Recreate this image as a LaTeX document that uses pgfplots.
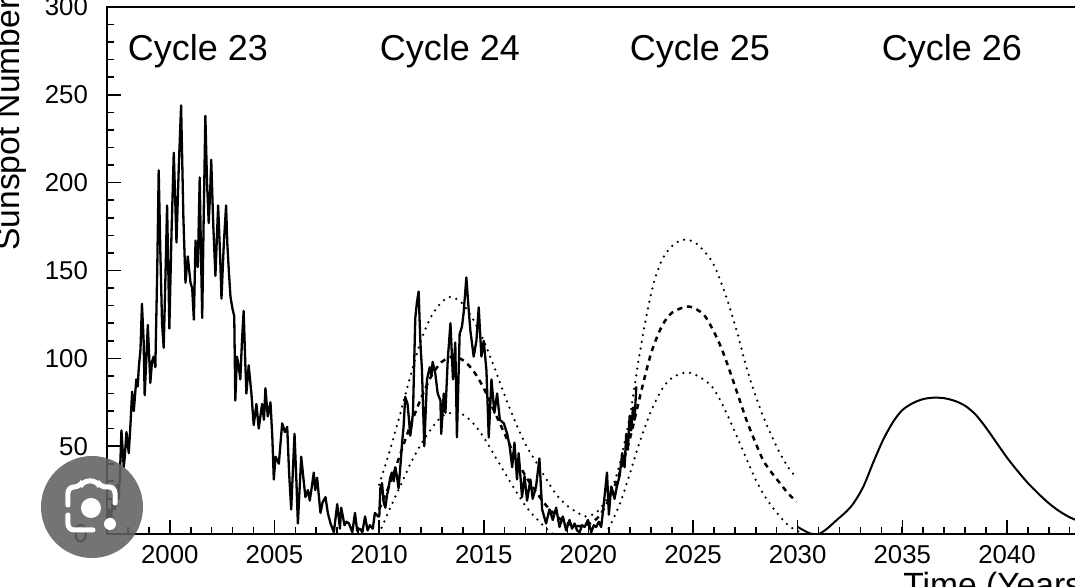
\documentclass[border=0pt]{standalone}
\usepackage{pgfplots}
\pgfplotsset{compat=1.18}
\usepackage{fontspec}
\setmainfont{Liberation Sans}
\begin{document}
\begin{tikzpicture}
\begin{axis}[
  at={(0pt,0pt)}, anchor=south west,
  scale only axis, width=502.3pt, height=263.5pt,
  xmin=1997, xmax=2045, ymin=0, ymax=300,
  xtick={2000,2005,...,2040},
  minor xtick={1998,1999,...,2044},
  ytick={0,50,...,300},
  minor ytick={10,20,...,290},
  tick pos=left, tick align=inside,
  major tick length=7pt, minor tick length=3.5pt,
  every tick/.append style={black, line width=0.8pt},
  axis line style={line width=1pt, black},
  tick label style={font=\fontsize{12.9}{14}\selectfont},
  xticklabel style={yshift=-2.4pt},
  yticklabel style={xshift=-6pt},
  /pgf/number format/assume math mode=true,
  /pgf/number format/1000 sep={},
  scaled ticks=false,
]
% observed monthly sunspot number
\addplot[black, line width=1.15pt, line join=round] table {
1997.00 8
1997.10 14
1997.20 10
1997.30 22
1997.37 14
1997.48 28
1997.55 20
1997.61 31
1997.69 59
1997.80 38
1997.85 44
1997.93 58
1998.04 46
1998.12 62
1998.20 81
1998.28 70
1998.40 88
1998.47 84
1998.52 95
1998.60 105
1998.67 131
1998.75 110
1998.80 79
1998.88 100
1998.95 119
1999.07 86
1999.15 98
1999.23 101
1999.31 95
1999.40 150
1999.47 207
1999.55 160
1999.63 120
1999.71 106
1999.80 150
1999.87 187
1999.93 150
1999.98 117
2000.08 170
2000.19 217
2000.26 190
2000.32 166
2000.43 209
2000.54 244
2000.65 180
2000.75 143
2000.80 150
2000.86 158
2000.93 150
2000.99 143
2001.07 140
2001.15 122
2001.23 167
2001.28 155
2001.34 152
2001.43 203
2001.49 160
2001.55 123
2001.62 180
2001.70 238
2001.78 200
2001.86 177
2001.93 195
2001.98 213
2002.08 175
2002.18 147
2002.31 187
2002.40 160
2002.47 134
2002.58 165
2002.69 187
2002.75 165
2002.82 150
2002.90 135
2003.00 128
2003.08 124
2003.13 76
2003.21 101
2003.30 95
2003.37 88
2003.45 110
2003.53 127
2003.60 100
2003.66 80
2003.77 96
2003.90 80
2004.01 62
2004.14 74
2004.25 60
2004.41 74
2004.50 65
2004.57 83
2004.68 67
2004.81 75
2004.90 55
2004.97 31
2005.05 44
2005.21 40
2005.37 63
2005.50 58
2005.61 61
2005.70 35
2005.80 14
2005.96 57
2006.05 30
2006.12 6
2006.28 44
2006.40 30
2006.48 21
2006.60 25
2006.69 19
2006.80 28
2006.88 35
2006.95 25
2007.04 32
2007.20 12
2007.30 18
2007.44 21
2007.55 12
2007.68 6
2007.84 1
2008.00 17
2008.13 3
2008.19 15
2008.35 5
2008.45 7
2008.56 6
2008.72 1
2008.85 12
2008.95 2
2009.09 3
2009.20 1
2009.33 10
2009.45 2
2009.56 5
2009.70 3
2009.80 12
2009.95 10
2010.01 10
2010.06 26
2010.14 29
2010.22 18
2010.30 15
2010.38 22
2010.45 26
2010.53 32
2010.61 35
2010.70 30
2010.77 38
2010.85 33
2010.93 26
2011.04 42
2011.10 52
2011.17 61
2011.25 78
2011.36 74
2011.43 65
2011.49 56
2011.56 62
2011.62 69
2011.73 123
2011.81 132
2011.89 138
2011.97 110
2012.05 93
2012.16 50
2012.29 88
2012.42 95
2012.50 90
2012.56 98
2012.69 91
2012.80 80
2012.93 76
2012.97 57
2013.09 80
2013.17 69
2013.28 99
2013.41 120
2013.53 88
2013.64 109
2013.72 55
2013.85 114
2013.96 118
2014.04 126
2014.17 146
2014.28 128
2014.36 116
2014.52 101
2014.65 110
2014.76 129
2014.89 101
2015.00 110
2015.13 93
2015.24 55
2015.37 88
2015.51 69
2015.64 80
2015.77 65
2015.96 63
2016.12 57
2016.24 50
2016.36 38
2016.47 52
2016.59 31
2016.67 46
2016.83 21
2016.95 33
2017.07 19
2017.23 31
2017.34 20
2017.50 27
2017.66 43
2017.79 14
2017.98 6
2018.14 14
2018.30 8
2018.46 15
2018.62 4
2018.78 10
2018.94 2
2019.10 8
2019.22 3
2019.34 6
2019.46 2
2019.58 1
2019.70 5
2019.82 4
2019.98 8
2020.14 1
2020.26 5
2020.37 4
2020.50 7
2020.61 4
2020.69 12
2020.77 21
2020.89 35
2020.98 11
2021.09 27
2021.17 24
2021.25 20
2021.36 27
2021.49 33
2021.62 46
2021.73 38
2021.81 57
2021.89 48
2021.97 67
2022.05 59
2022.13 72
2022.21 65
2022.29 84
};
% upper bound prediction (cycles 24 and 25)
\addplot[black, line width=1.25pt, smooth, line cap=round, dash pattern=on 0pt off 3.4pt] table {
2010.0 28
2010.5 47
2011.0 68
2011.5 90
2012.0 110
2012.5 124
2013.0 132
2013.45 135
2014.0 131
2014.5 122
2015.0 110
2015.5 95
2016.0 79
2016.5 64
2017.0 51
2017.5 41
2018.0 31
2018.5 22
2019.0 16
2019.5 12
2019.9 10
2020.4 12.5
2020.9 20
2021.2 28
2021.5 40
2021.8 56
2022.05 72
2022.4 99
2022.77 124
2023.15 144
2023.56 157
2024.0 164
2024.4 167
2024.76 167.5
2025.2 165
2025.6 160
2025.96 154
2026.35 143
2026.75 129
2027.15 113
2027.55 95
2027.95 80
2028.35 67
2028.75 56
2029.15 46
2029.55 38
2029.94 32
};
% mean prediction
\addplot[black, line width=1.25pt, smooth, dash pattern=on 2.6pt off 2.4pt] table {
2010.0 14
2010.5 28
2011.0 45
2011.5 62
2012.0 77
2012.5 90
2013.0 98
2013.55 101
2014.0 99
2014.5 93
2015.0 83
2015.5 70
2016.0 57
2016.5 44
2017.0 33
2017.5 24
2018.0 16
2018.5 10
2019.0 6
2019.5 4.5
2020.0 5.5
2020.5 10
2021.0 20
2021.5 35
2022.0 55
2022.5 80
2023.0 103
2023.5 118
2024.0 126
2024.8 129.5
2025.5 125
2025.96 116
2026.35 106
2026.75 93
2027.15 79
2027.55 65
2027.95 53
2028.35 42
2028.75 35
2029.15 29
2029.55 23
2029.94 18.4
};
% lower bound prediction, cycle 24
\addplot[black, line width=1.25pt, smooth, line cap=round, dash pattern=on 0pt off 3.4pt] table {
2010.0 0
2010.5 14
2011.0 27
2011.5 40
2012.0 51
2012.5 60
2013.0 67
2013.5 69
2014.0 68
2014.5 63
2015.0 55
2015.5 45
2016.0 35
2016.5 25
2017.0 16
2017.5 9
2018.0 3
2018.3 0
};
% lower bound prediction, cycle 25
\addplot[black, line width=1.25pt, smooth, line cap=round, dash pattern=on 0pt off 3.4pt] table {
2020.8 0
2021.0 4
2021.5 17
2022.0 35
2022.5 54
2023.0 70
2023.5 82
2024.0 89
2024.76 92
2025.5 88
2025.96 83
2026.35 75
2026.75 65
2027.15 54
2027.55 43
2027.95 32
2028.35 23
2028.75 16
2029.15 10
2029.55 5
2029.94 2
2030.3 0
};
% cycle 26 prediction
\addplot[black, line width=1pt, smooth] table {
2030.0 4
2030.3 2
2030.6 0.3
2031.0 0
2031.4 3
2031.87 8
2032.3 12.5
2032.67 17.5
2033.14 27
2033.62 41
2034.1 54
2034.57 64
2035.0 70.5
2035.5 74.5
2036.0 76.8
2036.5 77.6
2037.0 77.3
2037.5 75.8
2038.0 73
2038.5 68
2039.0 60.5
2039.5 52
2040.0 43.5
2040.5 36
2041.0 29
2041.5 23
2042.0 17.5
2042.5 13
2043.0 9.5
2043.5 7
2044.0 4.5
2045.0 1.5
};
\end{axis}
% cycle labels
\begin{scope}[every node/.style={inner sep=0pt, font=\fontsize{18}{21}\selectfont}]
\node[anchor=base] at (45.5pt,236.5pt) {Cycle 23};
\node[anchor=base] at (171.5pt,236.5pt) {Cycle 24};
\node[anchor=base] at (296.5pt,236.5pt) {Cycle 25};
\node[anchor=base] at (422.5pt,236.5pt) {Cycle 26};
\end{scope}
\begin{scope}[every node/.style={inner sep=0pt, font=\fontsize{16.8}{19}\selectfont}]
\node[rotate=90, anchor=base west] at (-43.5pt,141.5pt) {Sunspot Number};
\node[anchor=base west] at (398pt,-31.5pt) {Time (Years)};
\end{scope}
% screenshot lens badge
\fill[black!62, fill opacity=0.88] (-7.5pt,13.5pt) circle (25.5pt);
\fill[white] (-8pt,13pt) circle (5pt);
\fill[white] (1.5pt,5pt) circle (3pt);
\draw[white, line width=2.5pt, line cap=round, rounded corners=3pt]
  (-19.5pt,14.5pt) -- (-19.5pt,23.5pt) -- (-13.5pt,23.5pt) -- (-12pt,26.5pt) -- (-5pt,26.5pt) -- (-3.5pt,23.5pt) -- (4pt,23.5pt) -- (4pt,15.5pt);
\draw[white, line width=2.5pt, line cap=round, rounded corners=3pt]
  (-19.5pt,9.5pt) -- (-19.5pt,2pt) -- (-7pt,2pt);
\pgfresetboundingbox
\path[use as bounding box] (-53.5pt,267pt) rectangle (484pt,-26.5pt);
\end{tikzpicture}
\end{document}
